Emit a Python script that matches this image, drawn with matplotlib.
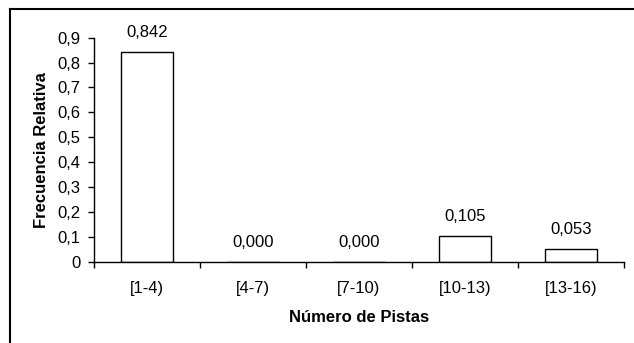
import numpy as np
import matplotlib
matplotlib.use("Agg")
import matplotlib.pyplot as plt
from matplotlib.lines import Line2D

categorias = ["[1-4)", "[4-7)", "[7-10)", "[10-13)", "[13-16)"]
frecuencia = [0.842, 0.000, 0.000, 0.105, 0.053]
yticks = [0, 0.1, 0.2, 0.3, 0.4, 0.5, 0.6, 0.7, 0.8, 0.9]

plt.rcParams["font.family"] = ["Liberation Sans", "DejaVu Sans"]
plt.rcParams["font.size"] = 12

W, H = 634, 343
fig = plt.figure(figsize=(W / 100, H / 100), dpi=100)
ax = fig.add_axes([94 / W, (H - 262) / H, 530 / W, (262 - 37.6) / H])

x = np.arange(len(categorias))
ax.bar(x, frecuencia, width=0.49, color="white", edgecolor="black", lw=1.0)

for xi, v in zip(x, frecuencia):
    ax.annotate(f"{v:.3f}".replace(".", ","), (xi, v), xytext=(0, 8.5),
                textcoords="offset points", ha="center", va="bottom",
                fontsize=12)

ax.set_xlim(-0.5, len(categorias) - 0.5)
ax.set_ylim(0, 0.9)
ax.set_yticks(yticks)
ax.set_yticklabels(["0" if t == 0 else f"{t:.1f}".replace(".", ",") for t in yticks])

# ticks on the category boundaries, labels centred under the bars
ax.set_xticks(np.arange(len(categorias) + 1) - 0.5)
ax.set_xticklabels([])
ax.set_xticks(x, minor=True)
ax.set_xticklabels(categorias, minor=True)
ax.tick_params(axis="x", which="major", length=4.5, width=1.0, direction="out")
ax.tick_params(axis="x", which="minor", length=0, pad=14)
ax.tick_params(axis="y", length=4.5, width=1.0, direction="out", pad=5)

for s in ("top", "right"):
    ax.spines[s].set_visible(False)
for s in ("left", "bottom"):
    ax.spines[s].set_linewidth(1.0)

ax.set_xlabel("Número de Pistas", fontweight="bold", labelpad=10)
ax.set_ylabel("Frecuencia Relativa", fontweight="bold", labelpad=6)

# outer frame (only top and left edges fall inside the image)
fig.add_artist(Line2D([10 / W, 1], [1 - 9 / H] * 2, color="black", lw=1.5))
fig.add_artist(Line2D([10 / W] * 2, [0, 1 - 9 / H], color="black", lw=1.5))

fig.savefig("out.png", dpi=100)
